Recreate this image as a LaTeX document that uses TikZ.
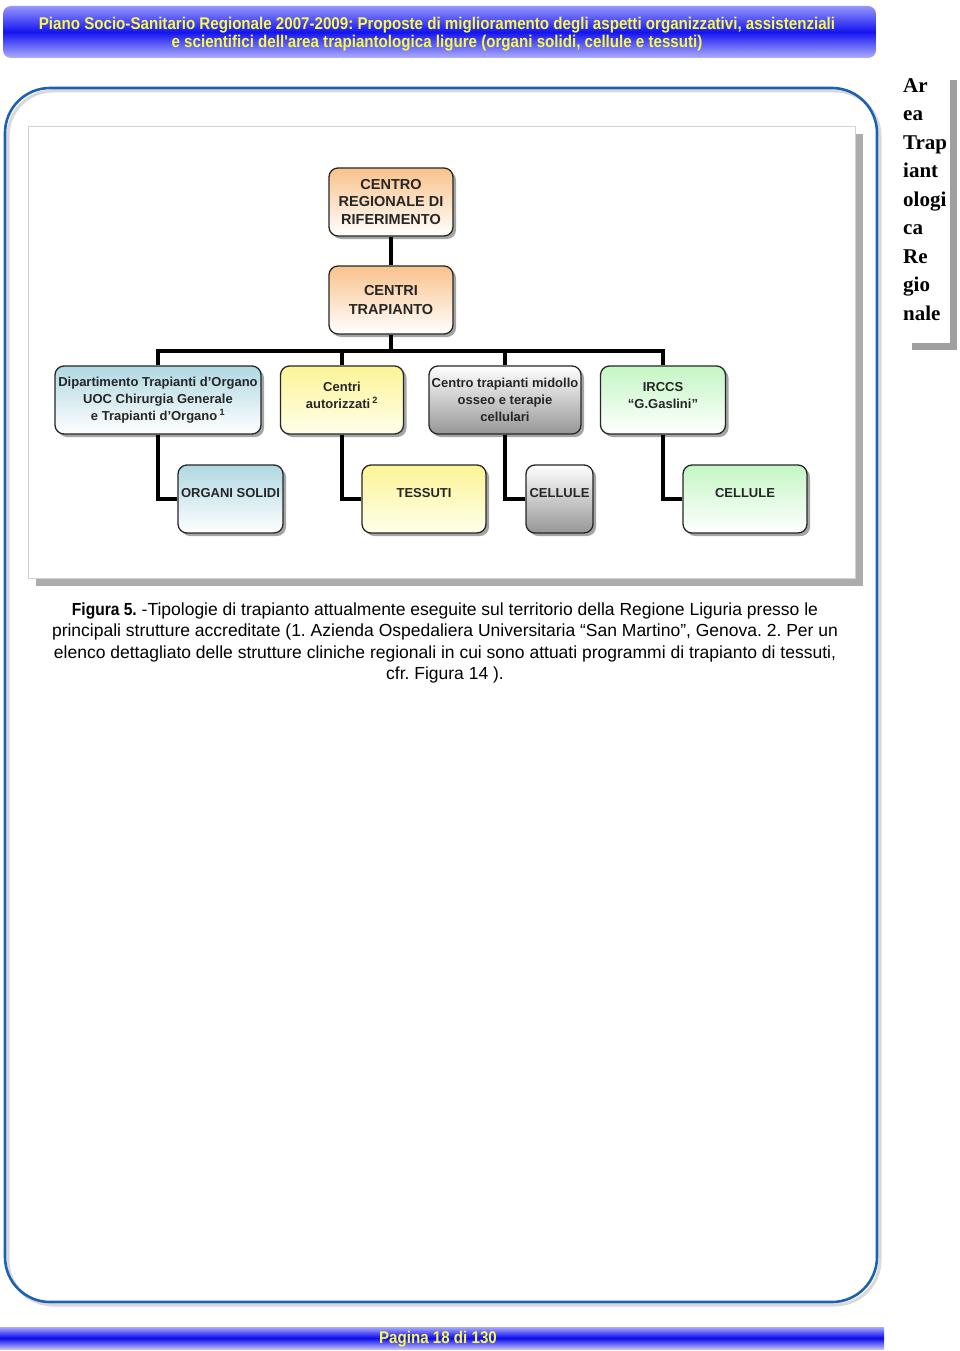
\documentclass[tikz,border=0pt]{standalone}
\usepackage{fontspec}
\setmainfont{Liberation Sans}
\newfontfamily\narrowsans[FakeStretch=0.89]{Liberation Sans}
\newfontfamily\timesfont{Liberation Serif}
\usetikzlibrary{shadows}
\frenchspacing
\definecolor{framebl}{RGB}{28,98,178}
\definecolor{headyel}{RGB}{250,250,70}
\definecolor{orangetop}{RGB}{249,194,140}
\definecolor{bluetop}{RGB}{176,216,226}
\definecolor{yeltop}{RGB}{252,244,150}
\definecolor{grayend}{RGB}{150,150,150}
\definecolor{greentop}{RGB}{196,246,196}
\tikzset{
  box/.style={draw=black!85, line width=1.3pt, rounded corners=9pt, align=center,
    text=black!85, inner sep=2pt, minimum height=68pt,
    font=\fontsize{13}{17}\selectfont\bfseries,
    drop shadow={shadow xshift=3pt, shadow yshift=-3pt, fill=black!50, opacity=0.7}},
  orangebox/.style={top color=orangetop, bottom color=white},
  bluebox/.style={top color=bluetop, bottom color=white},
  yelbox/.style={top color=yeltop, bottom color=yellow!8},
  graybox/.style={top color=white, bottom color=grayend},
  greenbox/.style={top color=greentop, bottom color=white},
  wire/.style={line width=3.3pt, black, line join=miter},
  bandtext/.style={text=headyel, font=\narrowsans\bfseries\fontsize{17}{18}\selectfont, align=center}
}
\begin{document}
\begin{tikzpicture}[x=1pt,y=-1pt]
\useasboundingbox (0,0) rectangle (960,1351);
\fill[white] (0,0) rectangle (960,1351);

% header band
\shade[rounded corners=8pt, top color={rgb,255:red,150;green,150;blue,255},
  bottom color={rgb,255:red,175;green,175;blue,255},
  middle color={rgb,255:red,20;green,20;blue,240}] (3,6) rectangle (876,58);
\node[bandtext] (head) at (437,34) {Piano Socio-Sanitario Regionale 2007-2009: Proposte di miglioramento degli aspetti organizzativi, assistenziali\\e scientifici dell'area trapiantologica ligure (organi solidi, cellule e tessuti)};

% page frame
\draw[gray!30, line width=3pt, rounded corners=45pt] (8,91) rectangle (880,1305);
\draw[framebl, line width=2.6pt, rounded corners=45pt] (5,88) rectangle (877,1302);

% side label
\fill[gray!75] (950,80) rectangle (957,350);
\fill[gray!75] (912,343) rectangle (957,350);
\node[anchor=north west, inner sep=0pt, align=left, font=\timesfont\bfseries\fontsize{21}{28.5}\selectfont] (side) at (903,78) {Ar\\ea\\Trap\\iant\\ologi\\ca\\Re\\gio\\nale};

% figure panel
\fill[gray!65] (36,134) rectangle (863,586);
\draw[gray!35, fill=white] (28,126) rectangle (855,578);

% boxes
\node[box, orangebox, minimum width=124pt, font=\fontsize{14.5}{17.5}\selectfont\bfseries] (crr) at (391,202) {CENTRO\\REGIONALE DI\\RIFERIMENTO};
\node[box, orangebox, minimum width=124pt, font=\fontsize{14.5}{19}\selectfont\bfseries] (ct) at (391,300) {CENTRI\\TRAPIANTO};

\node[box, bluebox, minimum width=206pt] (dip) at (158,400) {Dipartimento Trapianti d'Organo\\UOC Chirurgia Generale\\e Trapianti d'Organo\,\textsuperscript{1}};
\node[box, yelbox, minimum width=123pt, text depth=10pt] (aut) at (342,400) {Centri\\autorizzati\,\textsuperscript{2}};
\node[box, graybox, minimum width=152pt] (mid) at (505,400) {Centro trapianti midollo\\osseo e terapie\\cellulari};
\node[box, greenbox, minimum width=125pt, text depth=10pt] (ir) at (663,400) {IRCCS\\“G.Gaslini”};

\node[box, bluebox, minimum width=105pt, text depth=12pt] (os) at (230.5,499) {ORGANI SOLIDI};
\node[box, yelbox, minimum width=124pt, text depth=12pt] (tes) at (424,499) {TESSUTI};
\node[box, graybox, minimum width=67pt, text depth=12pt] (ce1) at (559.5,499) {CELLULE};
\node[box, greenbox, minimum width=124pt, text depth=12pt] (ce2) at (745,499) {CELLULE};

% connectors
\coordinate (bus) at (391,351);
\draw[wire] (crr.south) -- (ct.north);
\draw[wire] (ct.south) -- (bus);
\draw[wire] (dip.north) |- (ir.north |- bus) -- (ir.north);
\draw[wire] (aut.north |- bus) -- (aut.north);
\draw[wire] (mid.north |- bus) -- (mid.north);
\draw[wire] (dip.south) |- (os.west);
\draw[wire] (aut.south) |- (tes.west);
\draw[wire] (mid.south) |- (ce1.west);
\draw[wire] (ir.south) |- (ce2.west);

% caption
\node[align=center, font=\fontsize{17.5}{21.4}\selectfont, inner sep=0pt] (cap) at (445,643) {{\narrowsans\bfseries Figura 5.} -Tipologie di trapianto attualmente eseguite sul territorio della Regione Liguria presso le\\principali strutture accreditate (1. Azienda Ospedaliera Universitaria “San Martino”, Genova. 2. Per un\\elenco dettagliato delle strutture cliniche regionali in cui sono attuati programmi di trapianto di tessuti,\\cfr. Figura 14 ).};

% footer band
\shade[top color={rgb,255:red,170;green,170;blue,255},
  bottom color={rgb,255:red,190;green,190;blue,255},
  middle color={rgb,255:red,10;green,10;blue,235}] (0,1327) rectangle (884,1349);
\node[bandtext] (page) at (438,1339) {Pagina 18 di 130};
\end{tikzpicture}
\end{document}
